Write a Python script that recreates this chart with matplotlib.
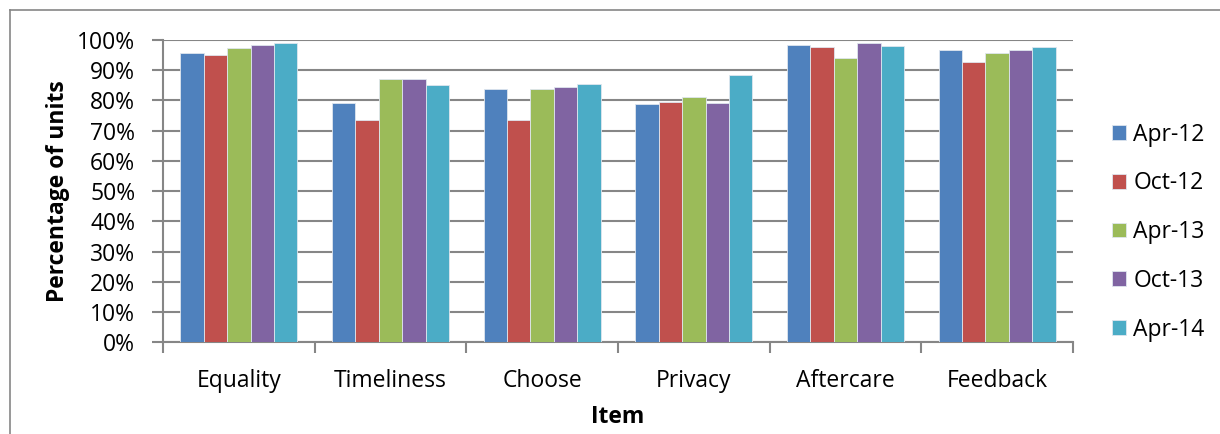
import numpy as np
import matplotlib.pyplot as plt
from matplotlib.lines import Line2D

items = ['Equality', 'Timeliness', 'Choose', 'Privacy', 'Aftercare', 'Feedback']
periods = ['Apr-12', 'Oct-12', 'Apr-13', 'Oct-13', 'Apr-14']
apr12 = [95.6, 79.1, 83.9, 78.8, 98.5, 96.6]
oct12 = [95.0, 73.6, 73.6, 79.5, 97.6, 92.7]
apr13 = [97.5, 87.0, 83.7, 81.3, 94.2, 95.6]
oct13 = [98.2, 87.1, 84.5, 79.3, 99.0, 96.6]
apr14 = [98.9, 85.1, 85.6, 88.3, 98.0, 97.6]
colors = ['#4F81BD', '#C0504D', '#9BBB59', '#8064A2', '#4BACC6']

plt.rcParams['font.family'] = ['Open Sans', 'DejaVu Sans']
fs = 16.5

fig = plt.figure(figsize=(12.2, 4.34), dpi=100)
ax = fig.add_axes([0.1336, 0.2113, 0.7459, 0.6965])

# chart frame
fig.add_artist(Line2D([10/1220, 10/1220], [0, 1 - 10/434], color='#868686', lw=1.2))
fig.add_artist(Line2D([10/1220, 1], [1 - 10/434, 1 - 10/434], color='#868686', lw=1.2))

x = np.arange(len(items))
w = 0.154
series = [apr12, oct12, apr13, oct13, apr14]
for i, vals in enumerate(series):
    ax.bar(x + (i - 2) * w, vals, w, color=colors[i], label=periods[i],
           edgecolor='#dfe6ee', linewidth=0.6, zorder=3)

ax.set_xlim(-0.5, len(items) - 0.5)
ax.set_ylim(0, 100)
ax.set_yticks(np.arange(0, 101, 10))
ax.set_yticklabels([f'{v}%' for v in range(0, 101, 10)])
ax.yaxis.grid(True, color='#868686', linewidth=1.5, zorder=0)
ax.set_xticks(x)
ax.set_xticklabels(items)
ax.set_xticks(np.arange(-0.5, len(items), 1), minor=True)
ax.tick_params(axis='x', which='major', length=0, labelsize=fs, pad=19)
ax.tick_params(axis='x', which='minor', length=8, width=1.5, color='#868686')
ax.tick_params(axis='y', length=8, width=1.5, color='#868686', labelsize=fs, pad=12)
for s in ['top', 'right']:
    ax.spines[s].set_visible(False)
for s in ['left', 'bottom']:
    ax.spines[s].set_color('#868686')
    ax.spines[s].set_linewidth(1.5)

ax.set_xlabel('Item', fontsize=fs, fontweight='bold', labelpad=9)
ax.set_ylabel('Percentage of units', fontsize=fs, fontweight='bold', labelpad=5)

ax.legend(loc='upper left', bbox_to_anchor=(1.033, 0.757), frameon=False, fontsize=fs,
          handlelength=0.62, handleheight=0.62, handletextpad=0.3, labelspacing=1.08,
          borderaxespad=0)

plt.savefig('out.png', dpi=100)
